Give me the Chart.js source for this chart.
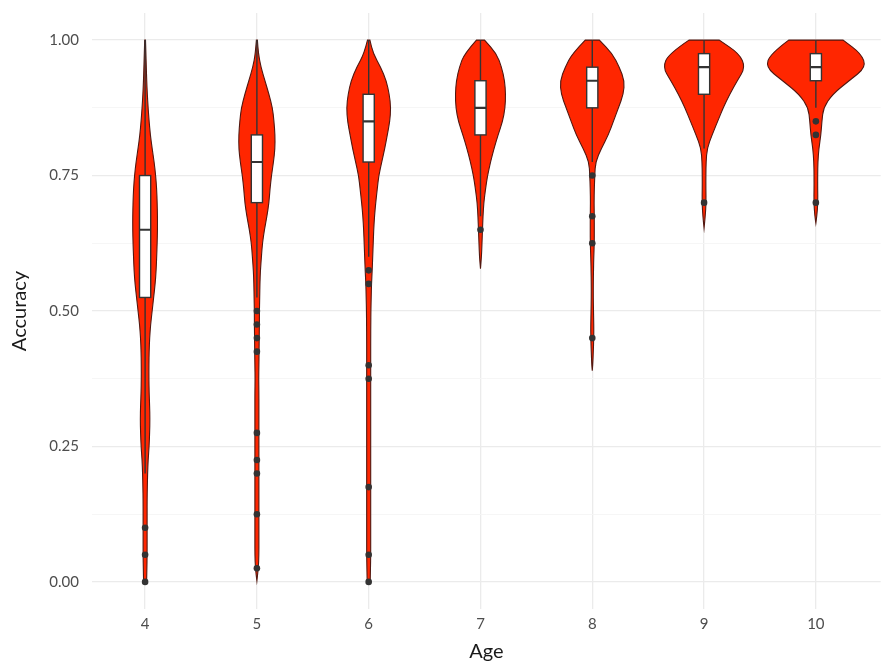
<!DOCTYPE html>
<html>
<head>
<meta charset="utf-8">
<script src="https://cdn.jsdelivr.net/npm/chart.js@4.4.1/dist/chart.umd.min.js"></script>
<style>
  html, body { margin: 0; padding: 0; background: #ffffff; }
  #wrap { width: 884px; height: 666px; }
</style>
</head>
<body>
<div id="wrap"><canvas id="violins" width="884" height="666"></canvas></div>
<script>
// ages on the x axis
const ages = [4, 5, 6, 7, 8, 9, 10];

// accuracy levels at which the violin densities were read
const levels = [0, 0.025, 0.05, 0.075, 0.1, 0.125, 0.15, 0.175, 0.2, 0.225, 0.25, 0.275, 0.3, 0.325, 0.35, 0.375, 0.4,
  0.425, 0.45, 0.475, 0.5, 0.525, 0.55, 0.575, 0.6, 0.625, 0.65, 0.675, 0.7, 0.725, 0.75, 0.775, 0.8, 0.825, 0.85,
  0.875, 0.9, 0.925, 0.95, 0.975, 1];

// relative density per age (same order as levels)
const density4 = [1.5, 1.8, 2, 2, 2, 2, 2, 2.2, 2.5, 3, 4, 4.5, 4.8, 4.5, 4, 3.8, 3.8,
  4, 4.5, 5.5, 7, 8.5, 10, 11, 11.5, 12, 12.3, 12.3, 12, 11.5, 10.5, 9, 7, 5.2, 4,
  3, 2.2, 1.6, 1.2, 0.8, 0.4];
const density5 = [0, 1.5, 2, 2, 2, 2, 2, 2, 2, 2, 2, 2, 2, 2, 2, 1.8, 2,
  2.2, 2.3, 2.5, 2.5, 2.8, 3, 3.5, 4.5, 5.5, 7.5, 10, 12, 13, 14.5, 16.5, 18, 18, 17,
  15.5, 12, 8, 4, 1.5, 0.5];
const density6 = [1.5, 1.8, 2, 2, 2, 2, 2, 2, 2, 2, 2, 2, 2, 2, 2, 2, 2,
  2, 2, 2.1, 2.2, 2.5, 2.8, 3.5, 4, 4.5, 5, 5.8, 7, 8.5, 10, 13, 16, 18.5, 21,
  22, 20.5, 17.5, 12, 4.5, 1.2];
const density7 = [0, 0, 0, 0, 0, 0, 0, 0, 0, 0, 0, 0, 0, 0, 0, 0, 0,
  0, 0, 0, 0, 0, 0, 0, 1, 1.5, 2, 2.5, 3.3, 5, 7, 10, 13.5, 17.5, 22,
  24.5, 25, 24, 21, 16, 4];
const density8 = [0, 0, 0, 0, 0, 0, 0, 0, 0, 0, 0, 0, 0, 0, 0, 0, 0.5,
  1, 1.5, 1.5, 1.2, 1, 1, 1.2, 1.5, 2, 2, 2, 1.8, 2, 2.5, 3.2, 9, 16, 21,
  26, 31, 32, 27, 20, 7];
const density9 = [0, 0, 0, 0, 0, 0, 0, 0, 0, 0, 0, 0, 0, 0, 0, 0, 0,
  0, 0, 0, 0, 0, 0, 0, 0, 0, 0, 1.2, 2, 1.8, 1.8, 2, 3, 8, 13.5,
  19, 25.5, 33, 41, 35, 15];
const density10 = [0, 0, 0, 0, 0, 0, 0, 0, 0, 0, 0, 0, 0, 0, 0, 0, 0,
  0, 0, 0, 0, 0, 0, 0, 0, 0, 0, 1, 2, 1.8, 1.8, 2, 3, 5, 6,
  7.5, 16.5, 33, 50, 45, 27];

// lowest observed accuracy per age (violins are trimmed to the data range)
const violinMin = [0, 0.002, 0, 0.578, 0.39, 0.653, 0.662];

// box plot statistics per age
const q1 = [0.525, 0.70, 0.775, 0.825, 0.875, 0.90, 0.925];
const medians = [0.65, 0.775, 0.85, 0.875, 0.925, 0.95, 0.95];
const q3 = [0.75, 0.825, 0.90, 0.925, 0.95, 0.975, 0.975];
const whiskerLow = [0.2, 0.525, 0.6, 0.675, 0.775, 0.8, 0.875];
const whiskerHigh = [1, 1, 1, 1, 1, 1, 1];

// outliers per age
const outliers4 = [0.1, 0.05, 0];
const outliers5 = [0.5, 0.475, 0.45, 0.425, 0.275, 0.225, 0.2, 0.125, 0.025];
const outliers6 = [0.575, 0.55, 0.4, 0.375, 0.175, 0.05, 0];
const outliers7 = [0.65];
const outliers8 = [0.75, 0.675, 0.625, 0.45];
const outliers9 = [0.7];
const outliers10 = [0.85, 0.825, 0.7];

const yTicks = [0, 0.125, 0.25, 0.375, 0.5, 0.625, 0.75, 0.875, 1];

const densities = [density4, density5, density6, density7, density8, density9, density10];
const outliers = [outliers4, outliers5, outliers6, outliers7, outliers8, outliers9, outliers10];

const FILL = '#ff2600';
const INK = '#333333';
const FONT = "Lato, 'Open Sans', sans-serif";

const maxDensity = Math.max(...densities.flat());

// pass a smooth curve through pixel points (already moved to the first one)
function smoothThrough(ctx, pts) {
  for (let i = 1; i < pts.length - 1; i++) {
    const mx = (pts[i][0] + pts[i + 1][0]) / 2;
    const my = (pts[i][1] + pts[i + 1][1]) / 2;
    ctx.quadraticCurveTo(pts[i][0], pts[i][1], mx, my);
  }
  const last = pts[pts.length - 1];
  ctx.lineTo(last[0], last[1]);
}

const violinPlugin = {
  id: 'violinPlugin',
  beforeDatasetsDraw(chart) {
    const { ctx, scales: { x, y }, chartArea } = chart;
    ctx.save();
    ctx.beginPath();
    ctx.rect(chartArea.left, chartArea.top, chartArea.width, chartArea.height);
    ctx.clip();

    ages.forEach((age, i) => {
      const dens = densities[i];
      const profile = [];
      if (violinMin[i] > levels[0]) profile.push([violinMin[i], 0]);
      levels.forEach((lv, k) => {
        if (lv >= violinMin[i] && !(lv === violinMin[i] && profile.length)) profile.push([lv, dens[k]]);
      });
      const half = d => d / maxDensity * 0.45;
      const right = profile.map(([v, d]) => [x.getPixelForValue(age + half(d)), y.getPixelForValue(v)]);
      const left = profile.map(([v, d]) => [x.getPixelForValue(age - half(d)), y.getPixelForValue(v)]).reverse();

      ctx.beginPath();
      ctx.moveTo(right[0][0], right[0][1]);
      smoothThrough(ctx, right);
      ctx.lineTo(left[0][0], left[0][1]);
      smoothThrough(ctx, left);
      ctx.closePath();
      ctx.fillStyle = FILL;
      ctx.fill();
      ctx.lineWidth = 1.1;
      ctx.strokeStyle = '#521810';
      ctx.stroke();
    });

    // box plots
    ages.forEach((age, i) => {
      const cx = x.getPixelForValue(age);
      const bl = x.getPixelForValue(age - 0.05);
      const br = x.getPixelForValue(age + 0.05);
      const yq1 = y.getPixelForValue(q1[i]);
      const yq3 = y.getPixelForValue(q3[i]);
      const ymed = y.getPixelForValue(medians[i]);

      ctx.strokeStyle = INK;
      ctx.lineWidth = 1.4;
      ctx.beginPath();
      ctx.moveTo(cx, y.getPixelForValue(whiskerLow[i]));
      ctx.lineTo(cx, yq1);
      ctx.moveTo(cx, yq3);
      ctx.lineTo(cx, y.getPixelForValue(whiskerHigh[i]));
      ctx.stroke();

      ctx.fillStyle = '#ffffff';
      ctx.fillRect(bl, yq3, br - bl, yq1 - yq3);
      ctx.strokeRect(bl, yq3, br - bl, yq1 - yq3);

      ctx.lineWidth = 2.2;
      ctx.beginPath();
      ctx.moveTo(bl, ymed);
      ctx.lineTo(br, ymed);
      ctx.stroke();
    });
    ctx.restore();
  }
};

const outlierPoints = [];
ages.forEach((age, i) => outliers[i].forEach(v => outlierPoints.push({ x: age, y: v })));

new Chart(document.getElementById('violins'), {
  type: 'scatter',
  data: {
    datasets: [{
      label: 'outliers',
      data: outlierPoints,
      pointRadius: 3.3,
      pointHoverRadius: 3.3,
      pointBackgroundColor: INK,
      pointBorderWidth: 0,
      clip: false
    }]
  },
  options: {
    responsive: false,
    animation: false,
    devicePixelRatio: 1,
    layout: { padding: { top: 13, right: 1, left: 0, bottom: 0 } },
    plugins: { legend: { display: false }, tooltip: { enabled: false } },
    scales: {
      x: {
        type: 'linear',
        min: 3.525,
        max: 10.58,
        afterBuildTicks: scale => { scale.ticks = ages.map(v => ({ value: v })); },
        afterFit: scale => { scale.height = 57; scale.paddingLeft = 0; scale.paddingRight = 0; },
        border: { display: false },
        grid: { color: '#ebebeb', lineWidth: 1.3, drawTicks: false },
        ticks: {
          padding: 6,
          color: '#4d4d4d',
          font: { family: FONT, size: 15 },
          callback: v => String(v)
        },
        title: {
          display: true,
          text: 'Age',
          color: '#1a1a1a',
          font: { family: FONT, size: 20 },
          padding: { top: 0, bottom: 2 }
        }
      },
      y: {
        min: -0.05,
        max: 1.05,
        afterBuildTicks: scale => { scale.ticks = yTicks.map(v => ({ value: v })); },
        afterFit: scale => { scale.width = 92; scale.paddingTop = 0; scale.paddingBottom = 0; },
        border: { display: false },
        grid: {
          drawTicks: false,
          color: c => (Math.round(c.tick.value * 8) % 2 === 0 ? '#ebebeb' : '#f5f5f5'),
          lineWidth: c => (Math.round(c.tick.value * 8) % 2 === 0 ? 1.3 : 0.9)
        },
        ticks: {
          padding: 13,
          color: '#4d4d4d',
          font: { family: FONT, size: 15 },
          callback: v => (Math.round(v * 8) % 2 === 0 ? v.toFixed(2) : '')
        },
        title: {
          display: true,
          text: 'Accuracy',
          color: '#1a1a1a',
          font: { family: FONT, size: 20 },
          padding: { top: 8, bottom: 0 }
        }
      }
    }
  },
  plugins: [violinPlugin]
});
</script>
</body>
</html>
